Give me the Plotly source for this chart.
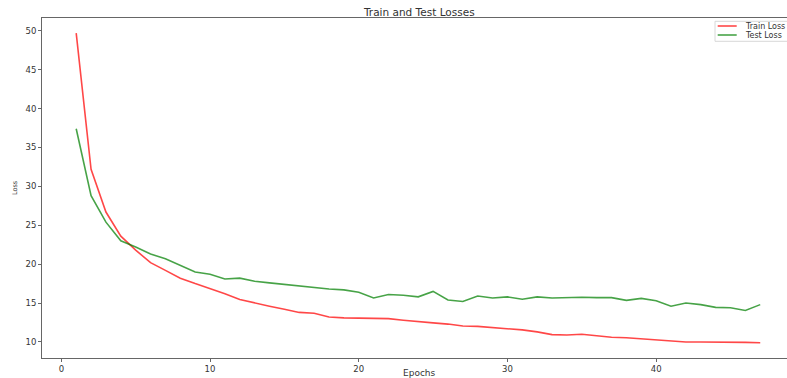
import plotly.graph_objects as go

epochs = list(range(1, 48))
train_loss = [49.7, 32.2, 26.7, 23.6, 21.8, 20.2, 19.2, 18.2, 17.5, 16.9,
              16.2, 15.45, 15.0, 14.6, 14.2, 13.8, 13.7, 13.2, 13.1, 13.05,
              13.0, 13.0, 12.8, 12.6, 12.45, 12.3, 12.05, 12.0, 11.85, 11.7,
              11.55, 11.3, 10.95, 10.9, 11.0, 10.8, 10.6, 10.55, 10.4, 10.25,
              10.1, 10.0, 10.0, 10.0, 10.0, 9.95, 9.9]
test_loss = [37.4, 28.8, 25.4, 23.0, 22.2, 21.3, 20.7, 19.9, 19.0, 18.7,
             18.1, 18.2, 17.8, 17.6, 17.4, 17.25, 17.0, 16.8, 16.7, 16.4,
             15.65, 16.1, 16.0, 15.8, 16.5, 15.4, 15.2, 15.9, 15.65, 15.8,
             15.5, 15.8, 15.65, 15.7, 15.75, 15.7, 15.7, 15.35, 15.6, 15.3,
             14.6, 15.0, 14.8, 14.45, 14.4, 14.05, 14.8]
x_ticks = [0, 10, 20, 30, 40]
y_ticks = [10, 15, 20, 25, 30, 35, 40, 45, 50]

W, H = 787, 378
L, R, T, B = 42, 0, 18, 20
PW, PH = W - L - R, H - T - B

def px(x):
    return (x - L) / PW

def py(y):
    return (H - B - y) / PH

RED = "rgba(255,0,0,0.72)"
GREEN = "rgba(0,128,0,0.72)"
FONT = "DejaVu Sans"
TXT = "#333333"

fig = go.Figure()
fig.add_trace(go.Scatter(x=epochs, y=train_loss, mode="lines", name="Train Loss",
                         line=dict(color=RED, width=1.6), showlegend=False))
fig.add_trace(go.Scatter(x=epochs, y=test_loss, mode="lines", name="Test Loss",
                         line=dict(color=GREEN, width=1.6), showlegend=False))

axis_common = dict(showgrid=False, zeroline=False, showline=True, linecolor="#666666",
                   linewidth=1, ticks="outside", ticklen=3, tickcolor="#666666",
                   tickfont=dict(family=FONT, size=8.5, color=TXT), automargin=False)

fig.update_xaxes(range=[-1.3, 48.8], tickvals=x_ticks, mirror=True, **axis_common)
fig.update_yaxes(range=[7.94, 51.64], tickvals=y_ticks, **axis_common)

ann = [
    dict(text="Train and Test Losses", x=px(418.5), y=py(11.5), xref="paper", yref="paper",
         showarrow=False, xanchor="center", yanchor="middle",
         font=dict(family=FONT, size=10.5, color=TXT)),
    dict(text="Epochs", x=px(419), y=py(372.5), xref="paper", yref="paper",
         showarrow=False, xanchor="center", yanchor="middle",
         font=dict(family=FONT, size=9, color=TXT)),
    dict(text="Loss", x=px(15), y=py(188), xref="paper", yref="paper",
         showarrow=False, xanchor="center", yanchor="middle", textangle=-90,
         font=dict(family=FONT, size=6.5, color=TXT)),
]
legend_items = [("Train Loss", RED, 26), ("Test Loss", GREEN, 35)]
shapes = [dict(type="rect", xref="paper", yref="paper", x0=px(715), x1=px(800),
               y0=py(41.3), y1=py(21.3), line=dict(color="#d8d8d8", width=1),
               fillcolor="rgba(255,255,255,0.8)", layer="above")]
for name, col, yy in legend_items:
    shapes.append(dict(type="line", xref="paper", yref="paper", x0=px(717.7), x1=px(736.7),
                       y0=py(yy), y1=py(yy), line=dict(color=col, width=1.6), layer="above"))
    ann.append(dict(text=name, x=px(743), y=py(yy), xref="paper", yref="paper",
                    showarrow=False, xanchor="left", yanchor="middle",
                    font=dict(family=FONT, size=8, color=TXT)))

fig.update_layout(width=W, height=H, margin=dict(l=L, r=R, t=T, b=B),
                  paper_bgcolor="white", plot_bgcolor="white",
                  annotations=ann, shapes=shapes, showlegend=False)

fig.write_html("out.html", config={"displayModeBar": False},
               post_script="document.body.style.margin='0px';document.body.style.overflow='hidden';")
